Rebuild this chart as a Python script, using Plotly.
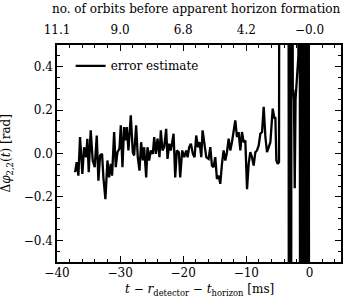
import plotly.graph_objects as go

# time (ms) and phase error (rad)
t_ms = [-37.14, -36.88, -36.61, -36.35, -35.98, -35.71, -35.40, -35.19, -34.97, -34.66,
        -34.34, -34.02, -33.70, -33.44, -33.17, -32.86, -32.65, -32.33, -32.01, -31.75,
        -31.48, -31.27, -30.95, -30.69, -30.42, -30.11, -29.89, -29.63, -29.37, -29.10,
        -28.94, -28.68, -28.31, -27.99, -27.78, -27.46, -27.20, -26.93, -26.67, -26.40,
        -26.19, -25.87, -25.66, -25.40, -25.13, -24.82, -24.60, -24.34, -24.07, -23.76,
        -23.55, -23.28, -23.02, -22.70, -22.49, -22.22, -21.96, -21.75, -21.53, -21.27,
        -21.01, -20.69, -20.48, -20.16, -19.84, -19.52, -19.31, -19.05, -18.78, -18.47,
        -18.20, -17.94, -17.67, -17.41, -17.14, -16.93, -16.61, -16.35, -15.98, -15.71,
        -15.45, -15.19, -14.92, -14.66, -14.39, -14.13, -13.86, -13.60, -13.33, -13.07,
        -12.80, -12.54, -12.28, -12.01, -11.75, -11.48, -11.22, -10.95, -10.69, -10.42,
        -10.16, -9.89, -9.63, -9.37, -9.10, -8.84, -8.57, -8.31, -8.04, -7.78,
        -7.51, -7.25, -6.98, -6.72, -6.46, -6.19, -5.82, -5.55, -5.40, -5.24,
        -5.03, -4.82, -4.71, -3.35, -3.22, -3.08, -2.95, -2.80, -2.64, -2.55,
        -2.45, -2.33, -2.20, -2.00, -1.75, -1.58, -1.44, -1.29, -1.15, -1.00,
        -0.86, -0.72, -0.58, -0.44, -0.30, -0.16, -0.02]
dphi = [-0.086, -0.040, -0.102, 0.076, -0.094, 0.029, -0.017, 0.068, -0.086, 0.107,
        -0.032, -0.063, 0.083, -0.125, -0.009, -0.002, -0.110, -0.210, -0.032, -0.110,
        -0.048, -0.102, 0.099, -0.063, 0.006, 0.022, 0.130, -0.063, 0.122, 0.060,
        0.122, 0.014, 0.176, 0.006, -0.009, 0.130, -0.017, -0.079, 0.052, -0.032,
        0.029, -0.110, 0.029, -0.032, 0.014, -0.002, 0.076, -0.002, 0.068, -0.017,
        0.107, 0.014, 0.029, 0.114, -0.025, 0.045, 0.014, 0.052, 0.091, -0.110,
        0.014, 0.006, -0.110, 0.014, -0.017, 0.014, -0.017, 0.029, 0.045, -0.002,
        -0.017, 0.083, 0.029, 0.052, -0.017, 0.107, 0.022, -0.017, -0.025, 0.029,
        -0.056, -0.063, -0.017, -0.117, -0.102, -0.140, -0.048, 0.014, -0.032, 0.006,
        0.068, 0.014, 0.052, 0.099, 0.153, 0.076, 0.099, 0.014, 0.099, 0.052,
        0.060, -0.164, -0.048, 0.006, -0.017, -0.056, 0.006, 0.014, 0.037, 0.091,
        0.099, 0.215, 0.076, 0.006, 0.029, 0.052, 0.207, 0.161, 0.168, -0.032,
        -0.048, -0.040, 3.0, 3.0, -3.0, 3.0, -3.0, 2.8, 0.29, 0.29,
        0.25, -0.16, 0.25, 0.34, 0.45, 3.0, -3.0, 3.1, -2.9, 3.2,
        -3.1, 2.9, -3.0, 3.0, -2.8, 3.1, -3.0]

bottom_ticks = [-40, -30, -20, -10, 0]
top_tick_labels = ["11.1", "9.0", "6.8", "4.2", "−0.0"]
y_ticks = [-0.4, -0.2, 0.0, 0.2, 0.4]

FONT = "DejaVu Serif"
FS = 12

fig = go.Figure()
fig.add_trace(go.Scatter(x=t_ms, y=dphi, mode="lines", name="error estimate",
                         line=dict(color="black", width=2.3), xaxis="x", yaxis="y"))
# invisible trace for the top axis
fig.add_trace(go.Scatter(x=[-40, 5], y=[0, 0], mode="lines", xaxis="x2", yaxis="y",
                         line=dict(width=0), showlegend=False, hoverinfo="skip"))

axcommon = dict(showgrid=False, zeroline=False, ticks="inside", ticklen=6, tickwidth=1,
                tickcolor="black", linecolor="black", linewidth=1.5, automargin=False,
                tickfont=dict(family=FONT, size=FS, color="black"))

fig.update_layout(
    width=348, height=303,
    margin=dict(l=57, r=7, t=45, b=41),
    paper_bgcolor="white", plot_bgcolor="white",
    font=dict(family=FONT, size=FS, color="black"),
    showlegend=True,
    legend=dict(x=0.048, y=0.971, xanchor="left", yanchor="top",
                bgcolor="rgba(0,0,0,0)", font=dict(family=FONT, size=FS),
                itemwidth=30, tracegroupgap=0),
    xaxis=dict(range=[-40, 5], tickvals=bottom_ticks, showline=True, ticklabelstandoff=-1,
               minor=dict(ticks="inside", ticklen=3, dtick=2, tickcolor="black"),
               **axcommon),
    xaxis2=dict(range=[-40, 5], overlaying="x", side="top", tickvals=bottom_ticks,
                ticktext=top_tick_labels, showline=True, ticklabelstandoff=4,
                minor=dict(ticks="inside", ticklen=3, dtick=2, tickcolor="black"),
                **axcommon),
    yaxis=dict(range=[-0.5, 0.5], tickvals=y_ticks, tickformat=".1f", mirror="ticks",
               showline=True,
               minor=dict(ticks="inside", ticklen=3, dtick=0.05, tickcolor="black"),
               **axcommon),
    annotations=[
        dict(text="<i>t</i> − <i>r</i><sub>detector</sub> − <i>t</i><sub>horizon</sub> [ms]",
             xref="paper", yref="paper", x=0.5, y=-0.085, xanchor="center", yanchor="top",
             showarrow=False, font=dict(family=FONT, size=FS)),
        dict(text="no. of orbits before apparent horizon formation",
             xref="paper", yref="paper", x=0.49, y=1.125, xanchor="center", yanchor="bottom",
             showarrow=False, font=dict(family=FONT, size=FS)),
        dict(text="Δ<i>φ</i><sub>2,2</sub>(<i>t</i>) [rad]",
             xref="paper", yref="paper", x=-0.141, y=0.5, xanchor="right", yanchor="middle",
             textangle=-90, showarrow=False, font=dict(family=FONT, size=FS)),
    ],
)

fig.write_html("out.html", config={"displayModeBar": False},
               post_script="document.body.style.margin='0';")
